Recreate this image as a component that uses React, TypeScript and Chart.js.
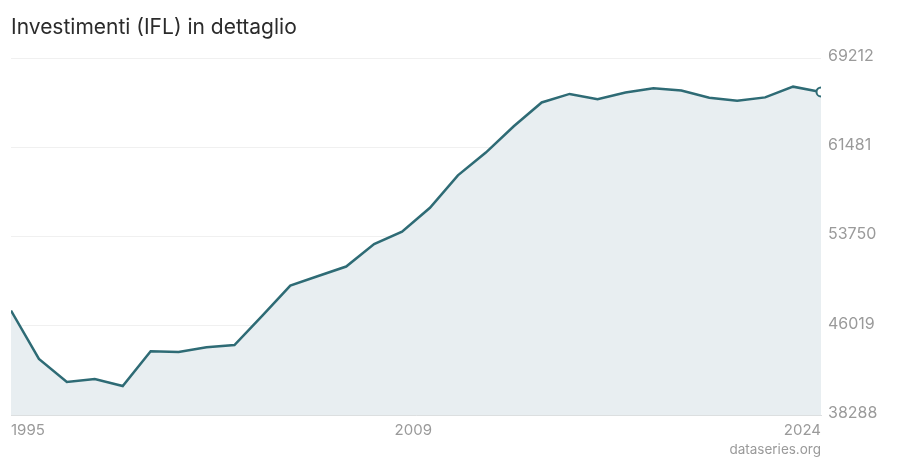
import { useEffect, useRef } from "react";
import { Chart, registerables } from "chart.js";

Chart.register(...registerables);

const years = [
  "1995", "1996", "1997", "1998", "1999", "2000", "2001", "2002", "2003", "2004",
  "2005", "2006", "2007", "2008", "2009", "2010", "2011", "2012", "2013", "2014",
  "2015", "2016", "2017", "2018", "2019", "2020", "2021", "2022", "2023", "2024",
];

const investimenti = [
  47330, 43150, 41150, 41410, 40800, 43810, 43750, 44160, 44350, 46900,
  49500, 50330, 51150, 53090, 54160, 56240, 59050, 61020, 63300, 65360,
  66100, 65640, 66220, 66600, 66400, 65770, 65510, 65800, 66730, 66270,
];

const yTicks = [38288, 46019, 53750, 61481, 69212];
const xLabelsShown = ["1995", "2009", "2024"];

const LINE = "#2e6b75";
const FILL = "#e8eef1";
const MUTED = "#9a9a9a";

export default function App() {
  const canvasRef = useRef<HTMLCanvasElement>(null);

  useEffect(() => {
    document.body.style.margin = "0";
    if (!canvasRef.current) return;
    const ctx = canvasRef.current.getContext("2d");
    if (!ctx) return;

    const last = investimenti.length - 1;

    const chart = new Chart(ctx, {
      type: "line",
      data: {
        labels: years,
        datasets: [
          {
            label: "Investimenti (IFL)",
            data: investimenti,
            borderColor: LINE,
            backgroundColor: FILL,
            borderWidth: 2.5,
            fill: "start",
            tension: 0,
            clip: 0,
            pointRadius: investimenti.map((_, i) => (i === last ? 4.5 : 0)),
            pointBackgroundColor: "#ffffff",
            pointBorderColor: LINE,
            pointBorderWidth: 2,
          },
        ],
      },
      options: {
        animation: false,
        responsive: false,
        maintainAspectRatio: false,
        layout: { padding: { left: 11, top: 58, right: 0, bottom: 0 } },
        plugins: {
          legend: { display: false },
          tooltip: { enabled: false },
        },
        scales: {
          x: {
            grid: { display: false, drawTicks: false },
            border: { display: true, color: "#dcdfe0", width: 1 },
            afterFit: (scale: any) => {
              scale.height = 45;
            },
            ticks: {
              autoSkip: false,
              maxRotation: 0,
              align: "inner",
              padding: 6,
              color: MUTED,
              font: { family: "Inter", size: 15 },
              callback: function (this: any, _v: any, i: number) {
                const l = years[i];
                if (!xLabelsShown.includes(l)) return "";
                // middle label sits a little right of its tick in the original
                return i === 0 || i === last ? l : "\u2002\u2002\u2002" + l;
              },
            },
          },
          y: {
            position: "right",
            min: yTicks[0],
            max: yTicks[yTicks.length - 1],
            afterBuildTicks: (scale: any) => {
              scale.ticks = yTicks.map((v) => ({ value: v }));
            },
            afterFit: (scale: any) => {
              scale.width = 79;
            },
            grid: { color: "#f0f0f0", drawTicks: false },
            border: { display: false },
            ticks: {
              padding: 7,
              labelOffset: -2,
              color: MUTED,
              font: { family: "Inter", size: 16 },
              callback: (v: any) => String(v),
            },
          },
        },
      },
    });

    return () => {
      chart.destroy();
    };
  }, []);

  return (
    <div style={{ position: "relative", width: 900, height: 460, background: "#fff", fontFamily: "Inter, sans-serif" }}>
      <canvas ref={canvasRef} width={900} height={460} style={{ position: "absolute", left: 0, top: 0 }} />
      <div style={{ position: "absolute", left: 11, top: 15, fontSize: 21, lineHeight: "24px", color: "#2b2b2b" }}>
        Investimenti (IFL) in dettaglio
      </div>
      <div style={{ position: "absolute", right: 79, top: 441, fontSize: 13.5, lineHeight: "16px", color: MUTED }}>
        dataseries.org
      </div>
    </div>
  );
}
